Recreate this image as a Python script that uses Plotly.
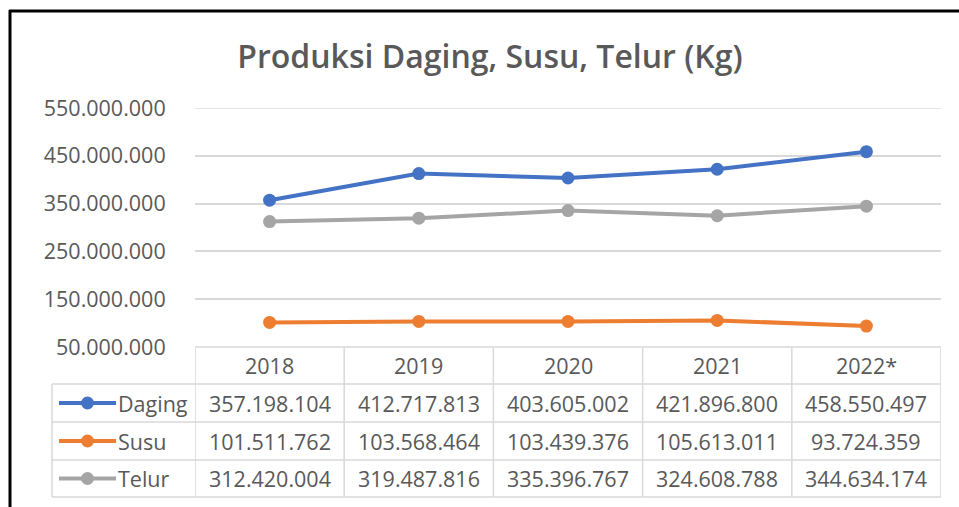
import plotly.graph_objects as go

# ---- data ----
years = ["2018", "2019", "2020", "2021", "2022*"]
series_names = ["Daging", "Susu", "Telur"]
daging = [357198104, 412717813, 403605002, 421896800, 458550497]
susu = [101511762, 103568464, 103439376, 105613011, 93724359]
telur = [312420004, 319487816, 335396767, 324608788, 344634174]
tick_vals = [50000000, 150000000, 250000000, 350000000, 450000000, 550000000]
colors = ["#4472C4", "#ED7D31", "#A5A5A5"]

W, H = 959, 507
L, R, T, B = 195, 941, 108, 347   # plot area in pixels
FONT = "Open Sans"
TXT = "#595959"
GRID = "#D9D9D9"
FS = 21.5


def fmt(v):
    return f"{v:,}".replace(",", ".")


def px2x(px):
    return (px - L) / (R - L)


def px2y(py):
    return (B - py) / (B - T)


fig = go.Figure()
for name, vals, c in zip(series_names, [daging, susu, telur], colors):
    fig.add_trace(go.Scatter(
        x=list(range(len(years))), y=vals, mode="lines+markers", name=name,
        line=dict(color=c, width=4), marker=dict(color=c, size=13),
        cliponaxis=False, hoverinfo="skip",
    ))

shapes = []
annotations = []

# chart frame (black borders left/top)
shapes.append(dict(type="line", xref="paper", yref="paper",
                   x0=px2x(9), x1=px2x(962), y0=px2y(11), y1=px2y(11),
                   line=dict(color="black", width=3)))
shapes.append(dict(type="line", xref="paper", yref="paper",
                   x0=px2x(10), x1=px2x(10), y0=px2y(10), y1=px2y(510),
                   line=dict(color="black", width=3)))

# gridline at the top of the range
shapes.append(dict(type="line", xref="paper", yref="y", layer="below",
                   x0=0, x1=1, y0=tick_vals[-1], y1=tick_vals[-1],
                   line=dict(color=GRID, width=1.5)))

# data table
row_edges = [347, 384, 422, 460, 497]
key_left = 52
for i, ry in enumerate(row_edges):
    x0 = px2x(L) if i == 0 else px2x(key_left)
    shapes.append(dict(type="line", xref="paper", yref="paper",
                       x0=x0, x1=1, y0=px2y(ry), y1=px2y(ry),
                       line=dict(color=GRID, width=1.5)))
for k in range(len(years) + 1):
    shapes.append(dict(type="line", xref="x", yref="paper",
                       x0=k - 0.5, x1=k - 0.5, y0=px2y(347), y1=px2y(497),
                       line=dict(color=GRID, width=1.5)))
shapes.append(dict(type="line", xref="paper", yref="paper",
                   x0=px2x(key_left), x1=px2x(key_left), y0=px2y(384), y1=px2y(497),
                   line=dict(color=GRID, width=1.5)))

hy = (row_edges[0] + row_edges[1]) / 2
for k, yr in enumerate(years):
    annotations.append(dict(x=k, y=px2y(hy), xref="x", yref="paper", text=yr,
                            showarrow=False, font=dict(family=FONT, size=FS, color=TXT),
                            xanchor="center", yanchor="middle"))
for r, (name, vals, c) in enumerate(zip(series_names, [daging, susu, telur], colors)):
    cy = (row_edges[r + 1] + row_edges[r + 2]) / 2
    for k, v in enumerate(vals):
        annotations.append(dict(x=k, y=px2y(cy), xref="x", yref="paper", text=fmt(v),
                                showarrow=False, font=dict(family=FONT, size=FS, color=TXT),
                                xanchor="center", yanchor="middle"))
    shapes.append(dict(type="line", xref="paper", yref="paper",
                       x0=px2x(59), x1=px2x(116), y0=px2y(cy), y1=px2y(cy),
                       line=dict(color=c, width=4)))
    shapes.append(dict(type="circle", xref="paper", yref="paper",
                       x0=px2x(81), x1=px2x(94), y0=px2y(cy - 6.5), y1=px2y(cy + 6.5),
                       fillcolor=c, line=dict(color=c, width=0)))
    annotations.append(dict(x=px2x(116), y=px2y(cy), xref="paper", yref="paper",
                            text=name, showarrow=False,
                            font=dict(family=FONT, size=FS, color=TXT),
                            xanchor="left", yanchor="middle"))

fig.update_layout(
    width=W, height=H,
    margin=dict(l=L, r=W - R, t=T, b=H - B, pad=0),
    paper_bgcolor="white", plot_bgcolor="white",
    showlegend=False,
    title=dict(text="Produksi Daging, Susu, Telur (Kg)", x=490 / W, xanchor="center",
               y=1 - 57 / H, yanchor="middle",
               font=dict(family=FONT, size=32, color=TXT, weight=600)),
    xaxis=dict(range=[-0.5, len(years) - 0.5], showticklabels=False, showgrid=False,
               zeroline=False, showline=False, fixedrange=True),
    yaxis=dict(range=[tick_vals[0], tick_vals[-1]], tickvals=tick_vals,
               ticktext=[fmt(v) for v in tick_vals],
               showgrid=True, gridcolor=GRID, gridwidth=1.5, zeroline=False,
               showline=False, ticks="outside", ticklen=24, tickcolor="rgba(0,0,0,0)",
               tickfont=dict(family=FONT, size=FS, color=TXT), fixedrange=True),
    shapes=shapes,
    annotations=annotations,
)

fig.write_html("out.html", config={"displayModeBar": False},
               post_script="document.body.style.margin='0';")
